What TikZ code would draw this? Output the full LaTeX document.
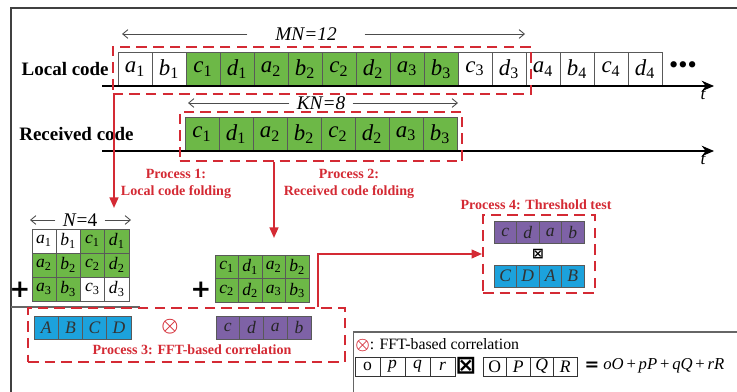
\documentclass[tikz,border=0pt]{standalone}
\usepackage{fontspec}
\setmainfont{Liberation Serif}
\newfontfamily\dejavu{DejaVu Sans}
\usepackage{amsmath}
\usepackage{xcolor}
\usepackage{tikz}
\usetikzlibrary{arrows.meta, positioning, fit, backgrounds, calc}
\definecolor{codegreen}{HTML}{6DB847}
\definecolor{codeblue}{HTML}{1CA2DC}
\definecolor{codepurple}{HTML}{7E62A6}
\definecolor{procred}{HTML}{D42A34}
\newcommand{\chip}[2]{\textit{#1}\textsubscript{#2}}

\begin{document}
\begin{tikzpicture}[
    x=0.02cm, y=-0.02cm,
    lcell/.style={rectangle, draw=black!65, line width=0.5pt, minimum width=0.68cm, minimum height=0.68cm,
                  inner sep=0pt, font=\fontsize{13}{13}\selectfont},
    blk/.style={rectangle, draw=black!65, line width=0.5pt, inner sep=0pt, font=\fontsize{10}{10}\selectfont},
    dashbox/.style={rectangle, draw=procred, line width=1.1pt, dash pattern=on 6pt off 3.5pt},
    legbox/.style={rectangle, draw=black!60, line width=0.6pt},
    redarr/.style={-{Triangle[length=6pt, width=5pt]}, draw=procred, line width=1.1pt},
    axisarr/.style={-{Stealth[length=7pt, width=6pt]}, line width=1pt},
    dimarr/.style={-{Straight Barb[length=3pt, width=5pt]}, draw=black!70, line width=0.5pt},
    dimlab/.style={font=\fontsize{11}{11}\selectfont, inner ysep=0pt},
    rowlabel/.style={font=\fontsize{10.8}{12}\selectfont\bfseries, anchor=east, inner sep=0pt},
    proclabel/.style={font=\fontsize{8}{9.6}\selectfont\bfseries, text=procred, align=center},
    tlab/.style={font=\fontsize{10}{10}\selectfont\itshape, inner sep=0pt},
    plus/.style={font=\fontsize{14}{14}\selectfont\dejavu\bfseries, inner sep=0pt},
]
    \path[use as bounding box, clip] (0,0) rectangle (737,392);

    % ── Frame ──
    \draw[black!75, line width=1pt] (11,400) -- (11,8) -- (745,8);
    \draw[black!60, line width=0.6pt] (11,307) -- (140,307);

    % ── LOCAL CODE ──
    \node[rowlabel] (lclab) at (109,69) {Local code};
    \foreach \s/\n/\f [count=\i] in {a/1/white, b/1/white, c/1/codegreen, d/1/codegreen,
                                     a/2/codegreen, b/2/codegreen, c/2/codegreen, d/2/codegreen,
                                     a/3/codegreen, b/3/codegreen, c/3/white, d/3/white,
                                     a/4/white, b/4/white, c/4/white, d/4/white}
        \node[lcell, fill=\f] (l\i) at ({101+34*\i}, 69) {\chip{\s}{\n}};
    \node[font=\fontsize{15}{15}\selectfont] (ldots) at (683,68) {•••};

    \coordinate (laxs) at (102,86);
    \coordinate (laxe) at (714,86);
    \draw[axisarr] (laxs) -- (laxe);
    \node[tlab] (lt) at (703,95) {t};

    \node[dashbox, fit={(l1.north west)([yshift=-0.06cm]l12.south east)}, inner sep=0.1cm] (lbox) {};

    % MN arrow
    \node[dimlab, inner xsep=0.55cm] (mn) at (306,34) {\textit{MN=12}};
    \coordinate (mnl) at (122,34);
    \coordinate (mnr) at (525,34);
    \draw[dimarr] (mn) -- (mnl);
    \draw[dimarr] (mn) -- (mnr);

    % ── RECEIVED CODE ──
    \node[rowlabel] (rclab) at (134,134) {Received code};
    \foreach \s/\n [count=\i] in {c/1, d/1, a/2, b/2, c/2, d/2, a/3, b/3}
        \node[lcell, fill=codegreen] (r\i) at ({168+34*\i}, 134) {\chip{\s}{\n}};

    \coordinate (raxs) at (102,151);
    \coordinate (raxe) at (714,151);
    \draw[axisarr] (raxs) -- (raxe);
    \node[tlab] (rt) at (703,160) {t};

    \node[dashbox, fit={(r1.north west)([yshift=-0.1cm]r8.south east)}, inner sep=0.1cm] (rbox) {};

    % KN arrow
    \node[dimlab, inner xsep=0.14cm] (kn) at (321,103) {\textit{KN=8}};
    \coordinate (knl) at (188,103);
    \coordinate (knr) at (458,103);
    \draw[dimarr] (kn) -- (knl);
    \draw[dimarr] (kn) -- (knr);

    % ── PROCESS 1 ──
    \coordinate (p1tip) at (114,208);
    \draw[redarr] (p1tip |- lbox.south) -- (p1tip);
    \node[proclabel] (p1lab) at (176,184) {Process 1:\\Local code folding};

    \node[dimlab, inner xsep=0.14cm] (n4) at (80,220) {\textit{N}=4};
    \coordinate (n4l) at (30,220);
    \coordinate (n4r) at (131,220);
    \draw[dimarr] (n4) -- (n4l);
    \draw[dimarr] (n4) -- (n4r);

    \foreach \s/\n/\f [count=\i, evaluate=\i as \col using {int(mod(\i-1,4))},
                       evaluate=\i as \row using {int((\i-1)/4)}] in
        {a/1/white, b/1/white, c/1/codegreen, d/1/codegreen,
         a/2/codegreen, b/2/codegreen, c/2/codegreen, d/2/codegreen,
         a/3/codegreen, b/3/codegreen, c/3/white, d/3/white}
        \node[blk, fill=\f, minimum width=0.485cm, minimum height=0.48cm] (g\i)
            at ({44.1+24.25*\col}, {241+24*\row}) {\chip{\s}{\n}};
    \node[plus] (pl1) at (20,290) {+};

    % ── PROCESS 2 ──
    \coordinate (p2tip) at (274,238);
    \draw[redarr] (p2tip |- rbox.south) -- (p2tip);
    \node[proclabel] (p2lab) at (349,184) {Process 2:\\Received code folding};

    \foreach \s/\n [count=\i, evaluate=\i as \col using {int(mod(\i-1,4))},
                    evaluate=\i as \row using {int((\i-1)/4)}] in
        {c/1, d/1, a/2, b/2, c/2, d/2, a/3, b/3}
        \node[blk, fill=codegreen, minimum width=0.47cm, minimum height=0.47cm] (h\i)
            at ({226.75+23.5*\col}, {267+23.5*\row}) {\chip{\s}{\n}};
    \node[plus] (pl2) at (201,290) {+};

    % ── PROCESS 3 ──
    \node[dashbox, minimum width=6.34cm, minimum height=1.08cm] (p3box) at (186.5,335) {};
    \foreach \s [count=\i] in {A, B, C, D}
        \node[blk, fill=codeblue, text=black!80, minimum width=0.485cm, minimum height=0.46cm] (u\i)
            at ({21.9+24.25*\i}, 327.5) {\textit{\s}};
    \foreach \s [count=\i] in {c, d, a, b}
        \node[blk, fill=codepurple, text=black!85, minimum width=0.475cm, minimum height=0.46cm] (v\i)
            at ({204.1+23.75*\i}, 327.5) {\textit{\s}};
    \node[text=procred, font=\fontsize{11}{11}\selectfont, inner sep=0pt] (otm) at (170,327) {$\boldsymbol{\otimes}$};
    \node[proclabel] (p3lab) at (192,350) {Process 3: FFT-based correlation};

    % ── PROCESS 4 ──
    \node[dashbox, minimum width=2.24cm, minimum height=1.56cm] (p4box) at (539,254) {};
    \node[proclabel] (p4lab) at (536,205) {Process 4: Threshold test};
    \foreach \s [count=\i] in {c, d, a, b}
        \node[blk, fill=codepurple, text=black!85, minimum width=0.45cm, minimum height=0.44cm] (w\i)
            at ({482.75+22.5*\i}, 232) {\textit{\s}};
    \foreach \s [count=\i] in {C, D, A, B}
        \node[blk, fill=codeblue, text=black!80, minimum width=0.45cm, minimum height=0.44cm] (z\i)
            at ({482.75+22.5*\i}, 276) {\textit{\s}};
    \node[font=\fontsize{8}{8}\selectfont\dejavu\bfseries, inner sep=0pt] (bx4) at (538,254) {⊠};

    % Process 3 to Process 4
    \coordinate (p3turn) at (318,254);
    \draw[redarr] (p3turn |- p3box.north) -- (p3turn) -- (p4box.west);

    % ── LEGEND ──
    \node[legbox, minimum width=7.88cm, minimum height=1.52cm] (legend) at (550,370) {};
    \node[anchor=west, font=\fontsize{9}{9}\selectfont, inner sep=0pt] (legtxt) at (355,345)
        {\textcolor{procred}{$\boldsymbol{\otimes}$}: FFT-based correlation};
    \foreach \s [count=\i] in {\textup{o}, \textit{p}, \textit{q}, \textit{r}}
        \node[blk, draw=black!80, minimum width=0.5cm, minimum height=0.38cm] (lo\i)
            at ({342.5+25*\i}, 366.5) {\s};
    \node[font=\fontsize{14}{14}\selectfont\dejavu\bfseries, inner sep=0pt] (bxl) at (466,366) {⊠};
    \foreach \s [count=\i] in {\textup{O}, \textit{P}, \textit{Q}, \textit{R}}
        \node[blk, draw=black!80, minimum width=0.47cm, minimum height=0.38cm] (lu\i)
            at ({471.25+23.5*\i}, 366.5) {\s};
    \node[font=\fontsize{10}{10}\selectfont\dejavu\bfseries, inner sep=0pt] (eq) at (592,366) {=};
    \node[anchor=west, font=\fontsize{9.5}{9.5}\selectfont, inner sep=0pt] (res) at (603,366)
        {\textit{oO}\,+\,\textit{pP}\,+\,\textit{qQ}\,+\,\textit{rR}};

\end{tikzpicture}
\end{document}
